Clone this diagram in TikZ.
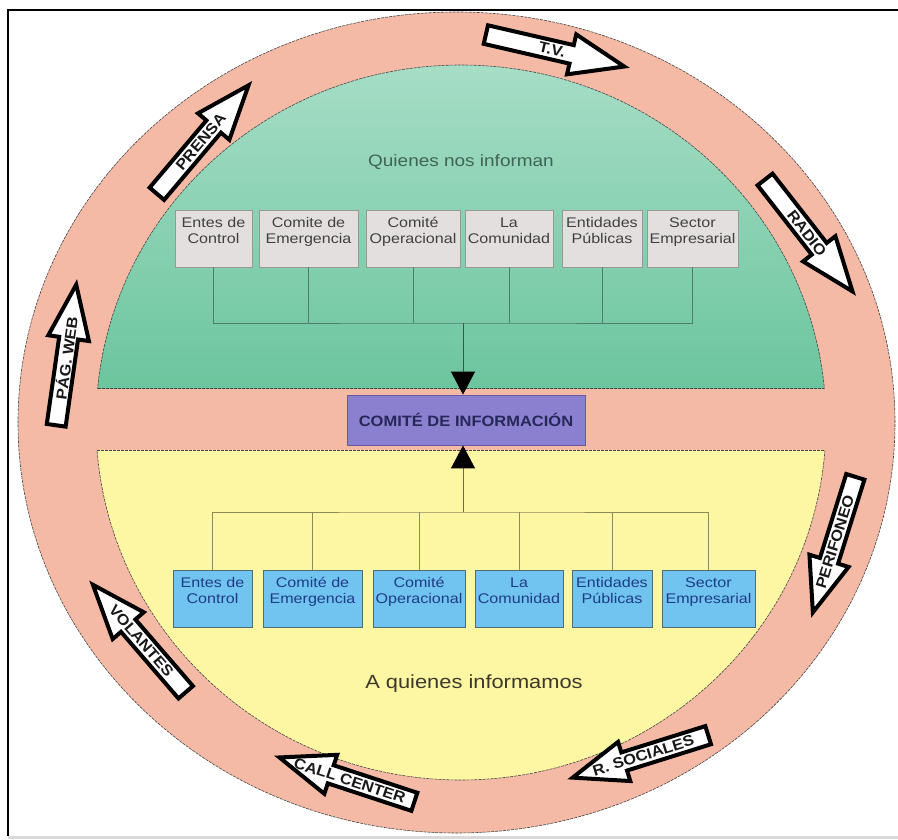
\documentclass[tikz,border=0pt]{standalone}
\usepackage{fontspec}
\setmainfont{Liberation Sans}
\newfontfamily\cajafont[FakeStretch=1.15]{Liberation Sans}
\newfontfamily\flechafont[FakeStretch=1.1]{Liberation Sans}
\usetikzlibrary{arrows.meta}

\definecolor{anillo}{HTML}{F4BAA6}
\definecolor{verdeclaro}{HTML}{A6DDC6}
\definecolor{verdeoscuro}{HTML}{6CC59E}
\definecolor{amarillo}{HTML}{FDF6A2}
\definecolor{morado}{HTML}{8B80CF}
\definecolor{moradoborde}{HTML}{6558A8}
\definecolor{grisclaro}{HTML}{E3DFDF}
\definecolor{grisborde}{HTML}{9A9797}
\definecolor{celeste}{HTML}{70C4EF}
\definecolor{celesteborde}{HTML}{4F6B73}
\definecolor{textoazul}{HTML}{1F3C88}
\definecolor{textomorado}{HTML}{26285A}
\definecolor{lineaverde}{HTML}{4F7D6D}
\definecolor{lineaolivo}{HTML}{8D8A5A}

\tikzset{
  borde/.style={draw=gray!55!black, line width=0.6pt, dash pattern=on 3pt off 1pt},
  cajagris/.style={draw=grisborde, fill=grisclaro, line width=0.8pt, minimum height=57pt,
    inner sep=0pt, align=center, text=black!75, font=\cajafont\fontsize{14}{16}\selectfont},
  cajaceleste/.style={draw=celesteborde, fill=celeste, line width=0.8pt, minimum height=57pt,
    inner sep=0pt, align=center, text=textoazul, font=\cajafont\fontsize{14}{16}\selectfont},
  bus/.style={line width=0.9pt},
  punta/.style={-{Triangle[width=24pt, length=23pt, black]}},
  flechabox/.style={draw=black, fill=white, line width=4pt, line join=miter},
  flechatext/.style={inner sep=0pt, text=black!90, font=\flechafont\bfseries\fontsize{15}{15}\selectfont}
}

\begin{document}
\begin{tikzpicture}[x=1pt, y=-1pt]
  \newcommand{\flecha}[5]
  {%
    \begin{scope}[shift={#2}, rotate=#3]
      \draw[flechabox] (-73,-9.5) -- (15,-9.5) -- (15,-20.5) -- (69,0)
        -- (15,20.5) -- (15,9.5) -- (-73,9.5) -- cycle;
      \node[flechatext, rotate=#4] (#1) at (-5,0) {#5};
    \end{scope}%
  }%
  \useasboundingbox (0,0) rectangle (898,840);
  \fill[white] (0,0) rectangle (898,840);

  \fill[anillo] (456.5,422.5) ellipse [x radius=438.5pt, y radius=410.5pt];
  \draw[borde] (456.5,422.5) ellipse [x radius=438.5pt, y radius=410.5pt];

  \begin{scope}
    \clip (0,0) rectangle (898,388);
    \clip (461,422.5) ellipse [x radius=365pt, y radius=357.5pt];
    \shade[top color=verdeclaro, bottom color=verdeoscuro] (90,65) rectangle (832,388);
  \end{scope}
  \begin{scope}
    \clip (0,0) rectangle (898,388);
    \draw[borde] (461,422.5) ellipse [x radius=365pt, y radius=357.5pt];
  \end{scope}
  \draw[borde] (97.7,388) -- (824.3,388);

  \begin{scope}
    \clip (0,450) rectangle (898,840);
    \fill[amarillo] (461,422.5) ellipse [x radius=365pt, y radius=357.5pt];
    \draw[borde] (461,422.5) ellipse [x radius=365pt, y radius=357.5pt];
  \end{scope}
  \draw[borde] (97.1,450) -- (824.9,450);

  \node[text=lineaverde!80!black, font=\cajafont\fontsize{16.5}{18}\selectfont] (informan) at (461,162) {Quienes nos informan};
  \node[text=black!75!olive, font=\cajafont\fontsize{19}{22}\selectfont] (informamos) at (474,684) {A quienes informamos};

  \node[cajagris, minimum width=77pt] (q1) at (213.5,238.5) {Entes de\\Control\\\mbox{}};
  \node[cajagris, minimum width=99pt] (q2) at (308.5,238.5) {Comite de\\Emergencia\\\mbox{}};
  \node[cajagris, minimum width=94pt] (q3) at (413,238.5) {Comité\\Operacional\\\mbox{}};
  \node[cajagris, minimum width=88pt] (q4) at (509,238.5) {La\\Comunidad\\\mbox{}};
  \node[cajagris, minimum width=80pt] (q5) at (602,238.5) {Entidades\\Públicas\\\mbox{}};
  \node[cajagris, minimum width=91pt] (q6) at (692.5,238.5) {Sector\\Empresarial\\\mbox{}};

  \node[cajaceleste, minimum width=79pt] (a1) at (212.5,598.5) {Entes de\\Control\\\mbox{}};
  \node[cajaceleste, minimum width=99pt] (a2) at (312.5,598.5) {Comité de\\Emergencia\\\mbox{}};
  \node[cajaceleste, minimum width=92pt] (a3) at (419,598.5) {Comité\\Operacional\\\mbox{}};
  \node[cajaceleste, minimum width=88pt] (a4) at (519,598.5) {La\\Comunidad\\\mbox{}};
  \node[cajaceleste, minimum width=80pt] (a5) at (612,598.5) {Entidades\\Públicas\\\mbox{}};
  \node[cajaceleste, minimum width=93pt] (a6) at (708.5,598.5) {Sector\\Empresarial\\\mbox{}};

  \node[draw=moradoborde, fill=morado, line width=0.8pt, minimum width=238pt, minimum height=50pt,
    text=textomorado, font=\flechafont\bfseries\fontsize{15}{18}\selectfont] (comite) at (466,420) {COMITÉ DE INFORMACIÓN};

  \coordinate (busN) at (463,323);
  \coordinate (busS) at (463,512);
  \draw[bus, lineaverde] (q1.south) |- (busN) -| (q6.south);
  \foreach \i in {2,...,5}
    \draw[bus, lineaverde] (q\i.south) -- (q\i.south |- busN);
  \draw[bus, black!70, punta] (busN) -- (busN |- comite.north);

  \draw[bus, lineaolivo] (a1.north) |- (busS) -| (a6.north);
  \foreach \i in {2,...,5}
    \draw[bus, lineaolivo] (a\i.north) -- (a\i.north |- busS);
  \draw[bus, black!60, punta] (busS) -- (busS |- comite.south);

  \flecha{tv}{(557,51)}{-13}{-13}{T.V.}
  \flecha{radio}{(810,237)}{-52}{-52}{RADIO}
  \flecha{perifoneo}{(833.5,546.5)}{-107.4}{72.6}{PERIFONEO}
  \flecha{redes}{(638.5,757)}{-162.6}{17.4}{R. SOCIALES}
  \flecha{callcenter}{(345,779)}{161.8}{-18.2}{CALL CENTER}
  \flecha{volantes}{(138,637)}{130.8}{-49.2}{VOLANTES}
  \flecha{pagweb}{(66.5,353)}{81.9}{81.9}{PÁG. WEB}
  \flecha{prensa}{(204,138)}{49.8}{49.8}{PRENSA}

  \draw[line width=2pt] (898,10) -- (8,10) -- (8,836);
  \draw[gray!30, line width=3pt] (8,837) -- (898,837);
\end{tikzpicture}
\end{document}
